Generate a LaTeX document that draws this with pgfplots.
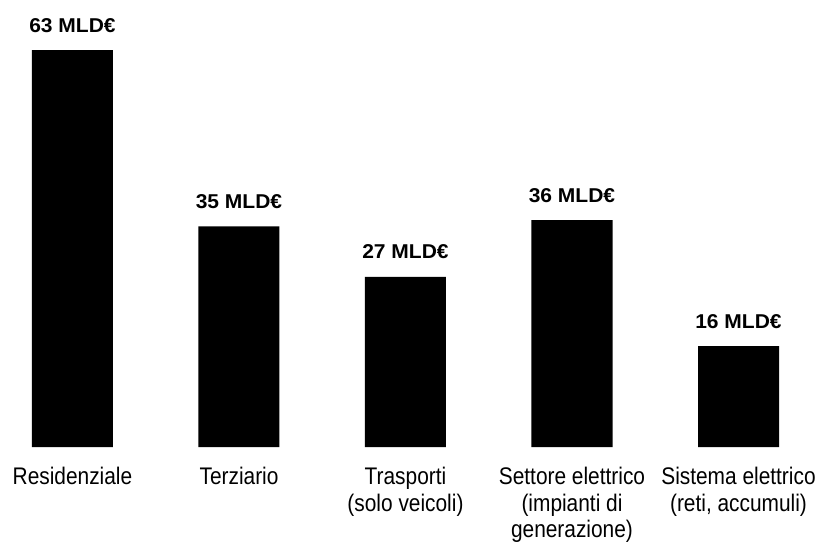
\documentclass[border=0pt]{standalone}
\usepackage{pgfplots}
\pgfplotsset{compat=1.18}
\usepackage{fontspec}
\setmainfont{Liberation Sans}[FakeStretch=0.87]
\newfontfamily\boldlab{Liberation Sans}[FakeStretch=1.05]
\begin{document}
\begin{tikzpicture}
\path[use as bounding box] (0,0) rectangle (816pt,549pt);
\begin{axis}[
  at={(0pt,102pt)}, anchor=south west,
  scale only axis, width=816pt, height=447pt,
  xmin=-0.4354, xmax=4.4655, ymin=0, ymax=70.95,
  axis line style={draw=none},
  ytick=\empty, xtick=data,
  major tick length=0pt,
  /pgf/number format/assume math mode=true,
  xticklabels={Residenziale, Terziario, Trasporti\\(solo veicoli), Settore elettrico\\(impianti di\\generazione), {Sistema elettrico\\(reti, accumuli)}},
  xticklabel style={align=center, font=\fontsize{24}{26.5}\selectfont, inner sep=0pt, anchor=north, yshift=-20pt},
  nodes near coords={\pgfmathprintnumber{\pgfplotspointmeta}~MLD€},
  nodes near coords style={anchor=base, yshift=18pt, inner sep=0pt, font=\boldlab\bfseries\fontsize{20}{22}\selectfont, black},
  clip=false,
]
\addplot[ybar, bar width=81pt, fill=black, draw=none] coordinates {(0,63) (1,35) (2,27) (3,36) (4,16)};
\end{axis}
\end{tikzpicture}
\end{document}
